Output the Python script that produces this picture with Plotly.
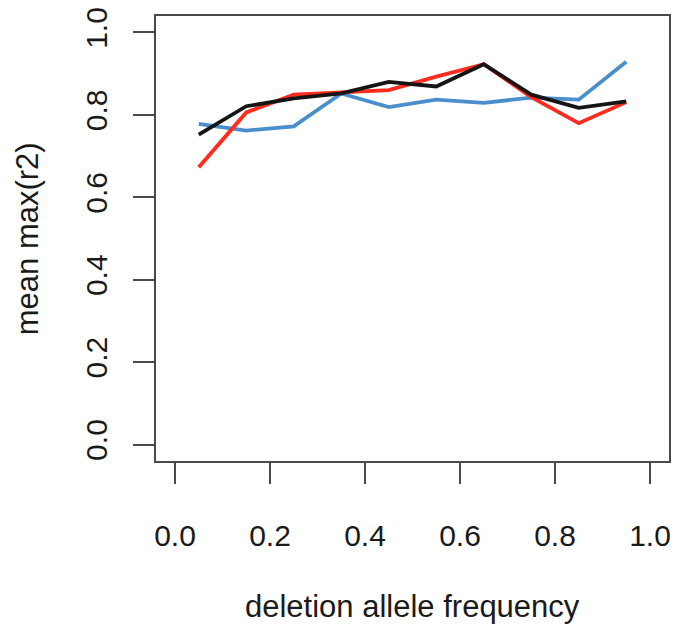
import plotly.graph_objects as go

freq = [0.05, 0.15, 0.25, 0.35, 0.45, 0.55, 0.65, 0.75, 0.85, 0.95]
blue_vals = [0.778, 0.762, 0.772, 0.852, 0.819, 0.837, 0.829, 0.842, 0.837, 0.929]
red_vals = [0.673, 0.806, 0.849, 0.855, 0.860, 0.893, 0.923, 0.843, 0.780, 0.831]
black_vals = [0.752, 0.821, 0.840, 0.852, 0.880, 0.869, 0.923, 0.849, 0.817, 0.833]
tick_vals = [0.0, 0.2, 0.4, 0.6, 0.8, 1.0]
tick_text = ["0.0", "0.2", "0.4", "0.6", "0.8", "1.0"]

FONT = "Liberation Sans, Arial, Helvetica, sans-serif"
AX = "#4a4a4a"

fig = go.Figure()
for vals, col in [(blue_vals, "#4a8fcb"), (red_vals, "#ff2b1c"), (black_vals, "#151515")]:
    fig.add_trace(go.Scatter(x=freq, y=vals, mode="lines",
                             line=dict(color=col, width=3.8), showlegend=False))

axis_common = dict(
    tickmode="array", tickvals=tick_vals, ticktext=tick_text,
    ticks="outside", ticklen=21, tickwidth=2.2, tickcolor=AX,
    showline=True, linecolor=AX, linewidth=2.2, mirror=True,
    showgrid=False, zeroline=False,
    tickfont=dict(family=FONT, size=30, color="#1a1a1a"),
)

fig.update_layout(
    width=678, height=628,
    margin=dict(l=156, r=7, t=16, b=167),
    paper_bgcolor="white", plot_bgcolor="white",
    xaxis=dict(range=[-0.04, 1.04], ticklabelstandoff=26, **axis_common),
    yaxis=dict(range=[-0.04, 1.04], tickangle=-90, ticklabelstandoff=14, **axis_common),
    annotations=[
        dict(text="deletion allele frequency", xref="paper", yref="paper",
             x=0.5, y=-0.328, xanchor="center", yanchor="middle", showarrow=False,
             font=dict(family=FONT, size=31, color="#1a1a1a")),
        dict(text="mean max(r2)", xref="paper", yref="paper",
             x=-0.25, y=0.5, xanchor="center", yanchor="middle", showarrow=False,
             textangle=-90, font=dict(family=FONT, size=31, color="#1a1a1a")),
    ],
)

fig.write_html("out.html")
